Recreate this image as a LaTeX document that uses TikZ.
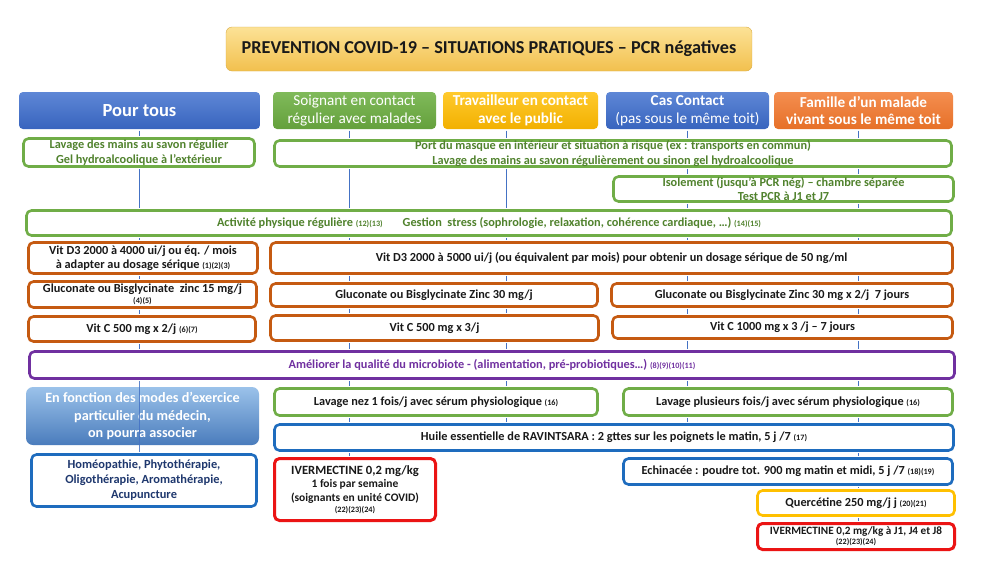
\documentclass[tikz,border=0pt]{standalone}
\usepackage{fontspec}
\setmainfont{Carlito}
\usetikzlibrary{calc}
\definecolor{cgreen}{RGB}{112,173,71}
\definecolor{tgreen}{RGB}{80,130,45}
\definecolor{corange}{RGB}{197,90,17}
\definecolor{cpurple}{RGB}{112,48,160}
\definecolor{cblue}{RGB}{30,108,190}
\definecolor{tblue}{RGB}{31,56,110}
\definecolor{cred}{RGB}{235,20,20}
\definecolor{cyellow}{RGB}{255,192,0}
\definecolor{txt}{RGB}{25,25,25}
\definecolor{clin}{RGB}{68,114,196}
\definecolor{hbluet}{RGB}{94,135,214}
\definecolor{hblueb}{RGB}{56,100,190}
\definecolor{hgreent}{RGB}{128,186,90}
\definecolor{hgreenb}{RGB}{100,160,60}
\definecolor{hyelt}{RGB}{255,202,45}
\definecolor{hyelb}{RGB}{242,176,0}
\definecolor{horat}{RGB}{244,142,80}
\definecolor{horab}{RGB}{230,112,40}
\definecolor{titt}{RGB}{252,226,150}
\definecolor{titb}{RGB}{242,192,78}
\definecolor{enft}{RGB}{155,194,234}
\definecolor{enfb}{RGB}{74,124,188}
\newcommand\rf[1]{{\fontsize{8.2}{9}\selectfont #1}}
\newcommand\mkbox[7]{%
 \pgfmathsetmacro\mkW{#5-#3}\pgfmathsetmacro\mkH{#6-#4}%
 \pgfmathsetmacro\mkX{(#3+#5)/2}\pgfmathsetmacro\mkY{(#4+#6)/2}%
 \node[#2, minimum width=\mkW pt, minimum height=\mkH pt] (#1) at (\mkX,\mkY) {#7};}
\begin{document}
\begin{tikzpicture}[x=1pt,y=-1pt,
  box/.style={draw, rounded corners=5pt, fill=white, line width=2.6pt, align=center,
    inner sep=0pt, text=txt, font=\bfseries\fontsize{12.3}{14.5}\selectfont},
  gbox/.style={box, draw=cgreen, text=tgreen},
  obox/.style={box, draw=corange},
  pbox/.style={box, draw=cpurple, text=cpurple},
  bbox/.style={box, draw=cblue},
  rbox/.style={box, draw=cred, line width=3pt},
  ybox/.style={box, draw=cyellow},
  hdr/.style={rounded corners=4pt, align=center, inner sep=0pt, text=white,
    font=\fontsize{15.2}{17.5}\selectfont},
  conn/.style={draw=clin, line width=1pt, shorten <=1.4pt, shorten >=1.4pt}]
\fill[white] (0,0) rectangle (981,568);
\useasboundingbox (0,0) rectangle (981,568);

% title
\mkbox{title}{rounded corners=6pt, top color=titt, bottom color=titb, draw=titb!90!black, line width=0.4pt, inner sep=0pt, text=txt, font=\bfseries\fontsize{18.2}{21}\selectfont}{226}{27}{752}{71}{PREVENTION COVID-19 – SITUATIONS PRATIQUES – PCR négatives}

% headers
\mkbox{pourtous}{hdr, top color=hbluet, bottom color=hblueb, font=\bfseries\fontsize{18.5}{21}\selectfont}{19}{92}{260}{129}{Pour tous}
\mkbox{soignant}{hdr, top color=hgreent, bottom color=hgreenb}{273}{92}{436}{129}{Soignant en contact\\régulier avec malades}
\mkbox{travail}{hdr, top color=hyelt, bottom color=hyelb, font=\bfseries\fontsize{15.2}{17.5}\selectfont}{443}{92}{598}{129}{Travailleur en contact\\avec le public}
\mkbox{cas}{hdr, top color=hbluet, bottom color=hblueb}{606}{92}{769}{129}{\textbf{Cas Contact}\\(pas sous le même toit)}
\mkbox{famille}{hdr, top color=horat, bottom color=horab, font=\bfseries\fontsize{15.2}{17.5}\selectfont}{774}{92}{953}{129}{Famille d’un malade\\vivant sous le même toit}

% rows
\mkbox{lavage}{gbox}{23.5}{138.5}{254.5}{166.5}{Lavage des mains au savon régulier\\Gel hydroalcoolique à l’extérieur}
\mkbox{masque}{gbox}{274.5}{140.5}{951.5}{166.5}{Port du masque en intérieur et situation à risque (ex : transports en commun)\\Lavage des mains au savon régulièrement ou sinon gel hydroalcoolique}
\mkbox{isol}{gbox}{613.5}{176.5}{953.5}{201.5}{Isolement (jusqu’à PCR nég) – chambre séparée\\Test PCR à J1 et J7}
\mkbox{activ}{gbox}{26.5}{210.5}{951.5}{235.5}{Activité physique régulière \rf{(12)(13)}\hspace{20pt}Gestion~ stress (sophrologie, relaxation, cohérence cardiaque, …) \rf{(14)(15)}}
\mkbox{d3l}{obox}{28.5}{242.5}{257.5}{273.5}{Vit D3 2000 à 4000 ui/j ou éq. / mois\\à adapter au dosage sérique \rf{(1)(2)(3)}}
\mkbox{d3r}{obox}{270.5}{242.5}{952.5}{273.5}{Vit D3 2000 à 5000 ui/j (ou équivalent par mois) pour obtenir un dosage sérique de 50 ng/ml}
\mkbox{znl}{obox}{28.5}{281.5}{256.5}{307.5}{Gluconate ou Bisglycinate~ zinc 15 mg/j\\[-3pt]\rf{(4)(5)}}
\mkbox{znm}{obox}{270.5}{283.5}{597.5}{306.5}{Gluconate ou Bisglycinate Zinc 30 mg/j}
\mkbox{znr}{obox}{611.5}{283.5}{952.5}{306.5}{Gluconate ou Bisglycinate Zinc 30 mg x 2/j~ 7 jours}
\mkbox{vcl}{obox}{28.5}{316.5}{255.5}{341.5}{Vit C 500 mg x 2/j \rf{(6)(7)}}
\mkbox{vcm}{obox}{270.5}{315.5}{598.5}{340.5}{Vit C 500 mg x 3/j}
\mkbox{vcr}{obox}{612.5}{316.5}{952.5}{338.5}{Vit C 1000 mg x 3 /j – 7 jours}
\mkbox{micro}{pbox}{29.5}{351.5}{954.5}{378.5}{Améliorer la qualité du microbiote - (alimentation, pré-probiotiques…) \rf{(8)(9)(10)(11)}}
\mkbox{enf}{rounded corners=7pt, top color=enft, bottom color=enfb, align=center, inner sep=0pt, text=white, font=\bfseries\fontsize{14.2}{17.5}\selectfont}{26}{387}{259}{445}{En fonction des modes d’exercice\\particulier du médecin,\\on pourra associer}
\mkbox{nez}{gbox, text=txt}{274.5}{388.5}{597.5}{415.5}{Lavage nez 1 fois/j avec sérum physiologique \rf{(16)}}
\mkbox{plus}{gbox, text=txt}{623.5}{388.5}{952.5}{415.5}{Lavage plusieurs fois/j avec sérum physiologique \rf{(16)}}
\mkbox{huile}{bbox}{274.5}{424.5}{953.5}{450.5}{Huile essentielle de RAVINTSARA : 2 gttes sur les poignets le matin, 5 j /7 \rf{(17)}}
\mkbox{homeo}{bbox, text=tblue, font=\bfseries\fontsize{12.4}{15}\selectfont}{31.5}{454.5}{256.5}{506.5}{Homéopathie, Phytothérapie,\\Oligothérapie, Aromathérapie,\\Acupuncture}
\mkbox{ivl}{rbox, font=\bfseries\fontsize{11.5}{13.5}\selectfont}{274.5}{458.5}{435.5}{520.5}{{\fontsize{12.6}{14}\selectfont IVERMECTINE 0,2 mg/kg}\\[0pt]1 fois par semaine\\(soignants en unité COVID)\\[-2pt]\rf{(22)(23)(24)}}
\mkbox{echi}{bbox}{623.5}{458.5}{952.5}{484.5}{Echinacée : poudre tot. 900 mg matin et midi, 5 j /7 \rf{(18)(19)}}
\mkbox{quer}{ybox}{757.5}{490.5}{954.5}{515.5}{Quercétine 250 mg/j j \rf{(20)(21)}}
\mkbox{ivr}{rbox, font=\bfseries\fontsize{11.2}{13}\selectfont}{757.5}{523.5}{954.5}{549.5}{IVERMECTINE 0,2 mg/kg à J1, J4 et J8\\[-3pt]\rf{(22)(23)(24)}}

% connectors: vertical spine of each column, drawn in the gaps between boxes
\coordinate (c1) at (pourtous.south);
\coordinate (c2) at ([xshift=-5.5pt]soignant.south);
\coordinate (c3) at ([xshift=-14.5pt]travail.south);
\coordinate (c4) at (cas.south);
\coordinate (c5) at ([xshift=-5.5pt]famille.south);
\foreach \a/\b in {pourtous/lavage, lavage/activ, activ/d3l, d3l/znl, znl/vcl, vcl/micro}
  \draw[conn] (c1 |- \a.south) -- (c1 |- \b.north);
\draw[conn, draw opacity=0.85] (c1 |- micro.south) -- (c1 |- homeo.north);
\foreach \a/\b in {soignant/masque, masque/activ, activ/d3r, d3r/znm, znm/vcm, vcm/micro, micro/nez, nez/huile, huile/ivl}
  \draw[conn] (c2 |- \a.south) -- (c2 |- \b.north);
\foreach \a/\b in {travail/masque, masque/activ, activ/d3r, d3r/znm, znm/vcm, vcm/micro, micro/nez, nez/huile}
  \draw[conn] (c3 |- \a.south) -- (c3 |- \b.north);
\foreach \a/\b in {cas/masque, masque/isol, isol/activ, activ/d3r, d3r/znr, znr/vcr, vcr/micro, micro/plus, plus/huile}
  \draw[conn] (c4 |- \a.south) -- (c4 |- \b.north);
\foreach \a/\b in {famille/masque, masque/isol, isol/activ, activ/d3r, d3r/znr, znr/vcr, vcr/micro, micro/plus, plus/huile, huile/echi, echi/quer, quer/ivr}
  \draw[conn] (c5 |- \a.south) -- (c5 |- \b.north);
\end{tikzpicture}
\end{document}
